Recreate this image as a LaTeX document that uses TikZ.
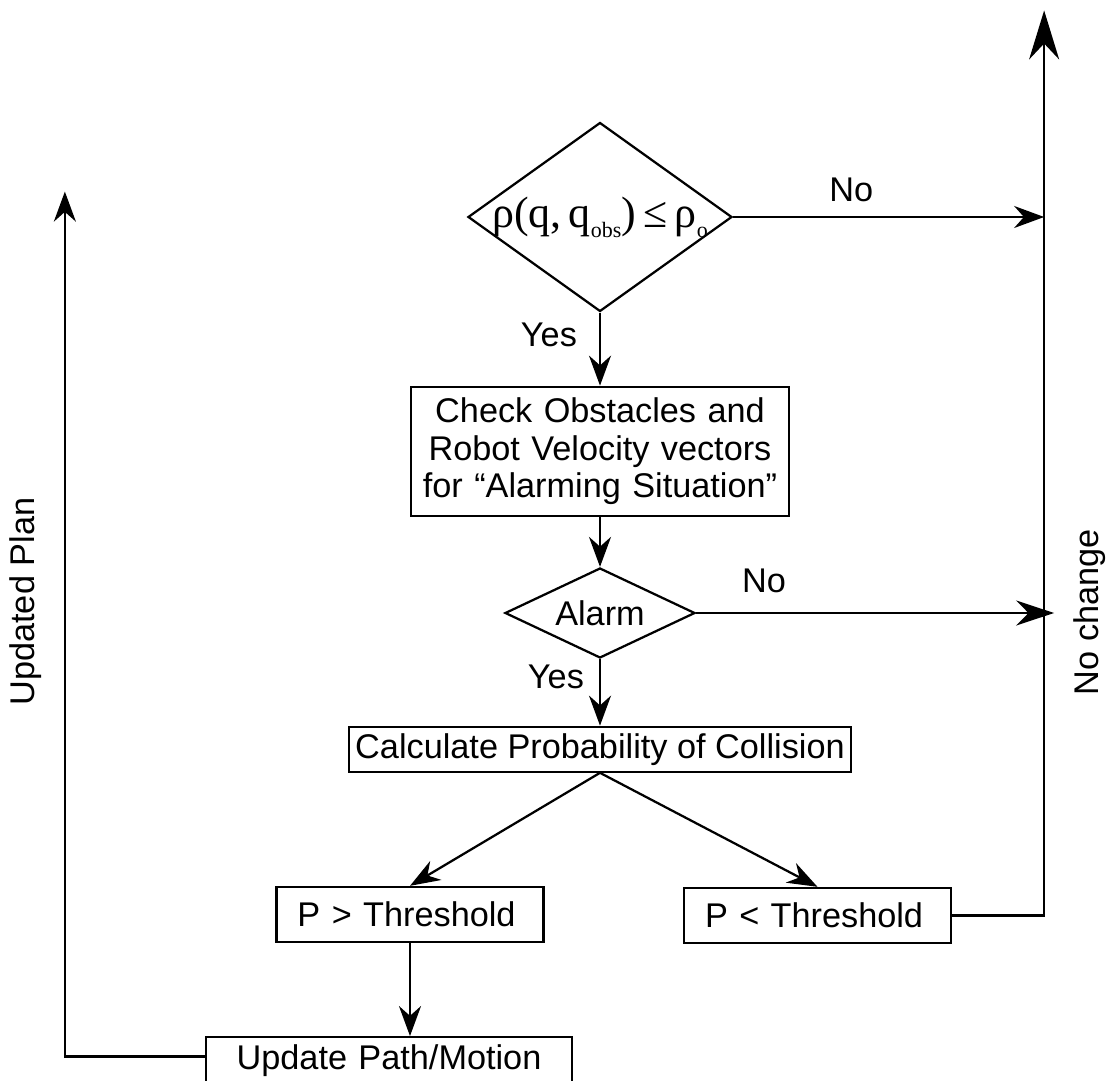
\documentclass[tikz,border=0pt]{standalone}
\usepackage{fontspec}
\setmainfont{Liberation Sans}
\newfontfamily\formulafont{Liberation Serif}
\usetikzlibrary{arrows.meta,positioning,shapes.geometric}
\newcommand{\lowsub}[1]{\raisebox{-2mm}{\fontsize{12.5}{12.5}\selectfont #1}}

\begin{document}
\begin{tikzpicture}[
  >=Stealth,
  font=\fontsize{19.5}{21.5}\selectfont,
  line width=0.45mm,
  decision/.style={draw, diamond, inner sep=0pt},
  procbox/.style={draw, align=center, inner sep=1.3mm},
  thrbox/.style={draw, align=left, text width=45mm, inner xsep=4.2mm,
                 minimum height=11mm},
  lbl/.style={inner sep=1mm},
  arr/.style={-{Stealth[length=6mm,width=4.4mm]}},
  midarr/.style={-{Stealth[length=7.6mm,width=5mm]}},
  bigarr/.style={-{Stealth[length=9.8mm,width=6mm]}}
]
\useasboundingbox (-120mm,-172.6mm) rectangle (101.8mm,43.4mm);

\node[decision, aspect=1.4, minimum width=52.8mm, minimum height=37.8mm] (cond) at (0,0)
  {\makebox[0pt]{\formulafont\fontsize{25}{25}\selectfont
   ρ(q,\,q\lowsub{obs})\,≤\,ρ\lowsub{o}}};
\node[procbox, text width=73mm, minimum height=25.8mm, below=14.6mm of cond] (check)
  {Check Obstacles and\\Robot Velocity vectors\\for “Alarming Situation”};
\node[decision, aspect=2.1, minimum width=38mm, minimum height=18mm,
      below=10mm of check] (alarm) {\makebox[0pt]{Alarm}};
\node[procbox, below=13.3mm of alarm] (calc) {Calculate Probability of Collision};
\node[thrbox, below=22.6mm of calc, xshift=-38mm] (pgt) {P > Threshold};
\node[thrbox, below=22.8mm of calc, xshift=43.5mm] (plt) {P < Threshold};
\node[procbox, text width=70.6mm, inner ysep=1.4mm, text depth=3.2mm,
      below=18.6mm of pgt, xshift=-4.2mm] (upd) {Update Path/Motion};

\coordinate[right=18.4mm of plt.east] (corner);
\coordinate[above=181mm of corner] (outtop);
\coordinate (lstart) at ([yshift=1.6mm]upd.west);
\coordinate[left=28mm of lstart] (lcorner);
\coordinate[above=173mm of lcorner] (outleft);

\draw[arr] (cond) -- node[lbl, left=3.4mm, pos=0.3] {Yes} (check);
\draw[arr] (check) -- (alarm);
\draw[arr] (alarm) -- node[lbl, left=2mm, pos=0.27] {Yes} (calc);
\draw[arr] (calc.south) -- (pgt.north);
\draw[arr] (calc.south) -- (plt.north);
\draw[arr] (pgt) -- (pgt.south |- upd.north);

\draw[arr] (cond.east) -- node[lbl, above=1.8mm, pos=0.38] {No} (cond.east -| corner);
\draw[midarr] (alarm.east) -- node[lbl, above=2.8mm, pos=0.19] {No}
  ([xshift=2mm]alarm.east -| corner);
\draw[bigarr] (plt.east) -- (corner)
  -- node[lbl, sloped, below=4.6mm, pos=0.335] {No change} (outtop);
\draw[arr] (lstart) -- (lcorner)
  -- node[lbl, sloped, above=3.4mm, pos=0.526] {Updated Plan} (outleft);
\end{tikzpicture}
\end{document}
